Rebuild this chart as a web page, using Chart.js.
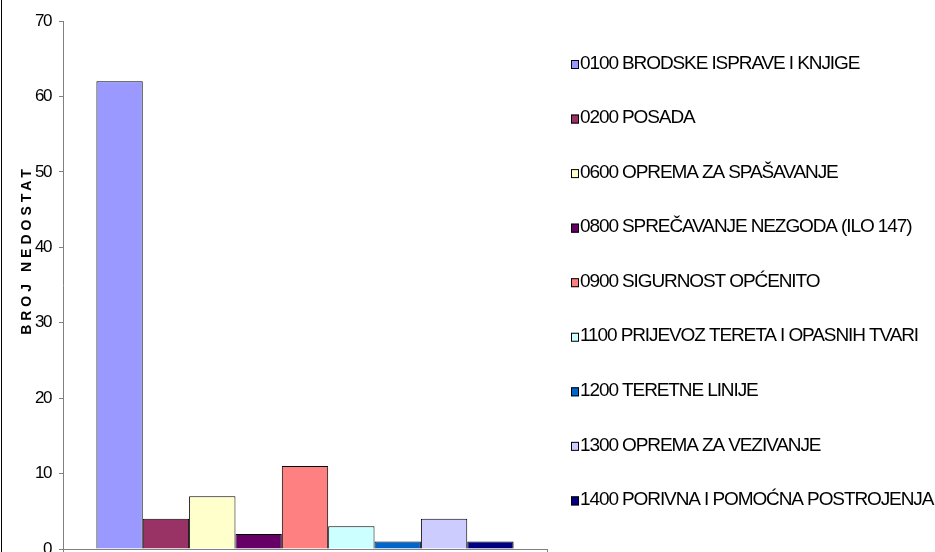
<!DOCTYPE html>
<html>
<head>
<meta charset="utf-8">
<script src="https://cdn.jsdelivr.net/npm/chart.js@4.4.0/dist/chart.umd.min.js"></script>
<style>
  html, body { margin: 0; padding: 0; background: #fff; }
  #wrap { position: relative; width: 935px; height: 552px; }
  #edge { position: absolute; left: 1px; top: 0; width: 1px; height: 552px; background: #000; }
</style>
</head>
<body>
<div id="wrap">
  <canvas id="c" width="935" height="552"></canvas>
  <div id="edge"></div>
</div>
<script>
const categories = [
  '0100 BRODSKE ISPRAVE I KNJIGE',
  '0200 POSADA',
  '0600 OPREMA ZA SPAŠAVANJE',
  '0800 SPREČAVANJE NEZGODA (ILO 147)',
  '0900 SIGURNOST OPĆENITO',
  '1100 PRIJEVOZ TERETA I OPASNIH TVARI',
  '1200 TERETNE LINIJE',
  '1300 OPREMA ZA VEZIVANJE',
  '1400 PORIVNA I POMOĆNA POSTROJENJA'
];
const values = [62, 4, 7, 2, 11, 3, 1, 4, 1];
const colors = ['#9999FF', '#993366', '#FFFFCC', '#660066', '#FF8080', '#CCFFFF', '#0066CC', '#CCCCFF', '#000080'];
const yMin = 0, yMax = 70, yStep = 10;
const yTitle = 'BROJ NEDOSTAT';

const FONT = "'Liberation Sans', Arial, sans-serif";

const datasets = categories.map((name, i) => ({
  label: name,
  data: [values[i]],
  backgroundColor: colors[i],
  borderColor: '#000000',
  borderWidth: 1,
  borderSkipped: 'bottom',
  categoryPercentage: 0.862,
  barPercentage: 1.0
}));

// tight text spacing like the original rendering
const tightText = {
  id: 'tightText',
  beforeDraw(chart) { chart.ctx.letterSpacing = '-1.5px'; },
  afterDraw(chart) { chart.ctx.letterSpacing = '0px'; }
};

const yTitlePlugin = {
  id: 'yTitle',
  afterDraw(chart) {
    const ctx = chart.ctx;
    ctx.save();
    ctx.translate(27, 252);
    ctx.rotate(-Math.PI / 2);
    ctx.font = "bold 14px 'Liberation Sans', Arial, sans-serif";
    ctx.letterSpacing = '4px';
    ctx.fillStyle = '#000';
    ctx.textAlign = 'center';
    ctx.textBaseline = 'middle';
    ctx.fillText(yTitle, 2, 0);
    ctx.restore();
  }
};

const sideLegend = {
  id: 'sideLegend',
  afterDraw(chart) {
    const ctx = chart.ctx;
    const boxX = 571, boxW = 8, boxH = 9, textX = 580, y0 = 64.5, dy = 54.55;
    ctx.save();
    ctx.letterSpacing = '-1.1px';
    ctx.font = "19px " + FONT;
    ctx.textAlign = 'left';
    ctx.textBaseline = 'middle';
    chart.data.datasets.forEach((ds, i) => {
      const cy = y0 + i * dy;
      ctx.fillStyle = ds.backgroundColor;
      ctx.fillRect(boxX, cy - boxH / 2, boxW, boxH);
      ctx.strokeStyle = '#000';
      ctx.lineWidth = 1;
      ctx.strokeRect(boxX + 0.5, cy - boxH / 2 + 0.5, boxW - 1, boxH - 1);
      ctx.fillStyle = '#000';
      ctx.fillText(ds.label, textX, cy - 1);
    });
    ctx.restore();
  }
};

new Chart(document.getElementById('c'), {
  type: 'bar',
  data: { labels: [''], datasets },
  options: {
    responsive: false,
    animation: false,
    layout: { padding: { top: 21, left: 0, right: 388, bottom: 0 } },
    plugins: {
      tooltip: { enabled: false },
      legend: { display: false }
    },
    scales: {
      x: {
        grid: { display: true, drawOnChartArea: false, drawTicks: true, tickLength: 4, color: '#808080', offset: true },
        border: { display: true, color: '#808080', width: 1 },
        ticks: { display: false },
        afterFit(s) { s.height = 3; s.paddingLeft = 0; s.paddingRight = 0; }
      },
      y: {
        min: yMin, max: yMax,
        ticks: { stepSize: yStep, color: '#000', padding: 8, font: { family: FONT, size: 17 } },
        grid: { display: true, drawOnChartArea: false, drawTicks: true, tickLength: 4, color: '#808080' },
        border: { display: true, color: '#808080', width: 1 },
        afterFit(s) { s.width = 63; s.paddingTop = 0; s.paddingBottom = 0; }
      }
    }
  },
  plugins: [tightText, yTitlePlugin, sideLegend]
});
</script>
</body>
</html>
